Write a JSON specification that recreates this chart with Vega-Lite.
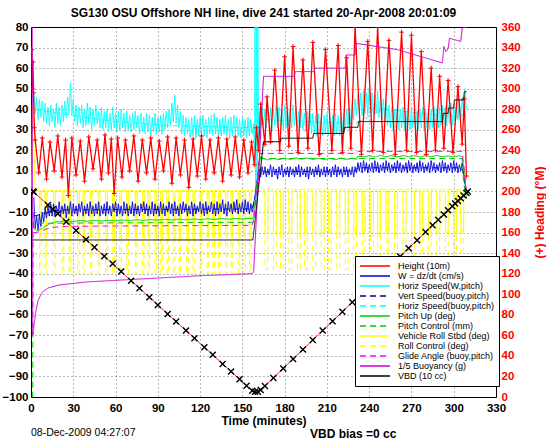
{
"$schema": "https://vega.github.io/schema/vega-lite/v6.json",
"width": 465, "height": 370,
"autosize": {"type": "none"},
"padding": {"left": 31, "top": 27, "right": 50, "bottom": 45},
"background": "white",
"title": {"text": "SG130 OSU Offshore NH line, dive 241 started 20-Apr-2008 20:01:09", "font": "Liberation Sans", "fontSize": 12, "fontWeight": "bold", "color": "#000", "anchor": "middle", "offset": 1},
"config": {
 "font": "Liberation Sans",
 "view": {"stroke": "#000", "strokeWidth": 1},
 "axis": {"labelFont": "Liberation Sans", "labelFontWeight": "bold", "labelFontSize": 11.5, "labelColor": "#000", "titleFont": "Liberation Sans", "titleFontWeight": "bold", "titleFontSize": 12, "titleColor": "#000", "ticks": false, "domain": false, "gridDash": [1, 3], "gridColor": "#000", "gridOpacity": 0.55, "labelOverlap": false, "labelFlush": false},
 "legend": {"orient": "none", "legendX": 324, "legendY": 229, "padding": 5, "strokeColor": "#000", "fillColor": "#fff", "rowPadding": 0, "labelFont": "Liberation Sans", "labelFontSize": 9, "labelColor": "#000", "symbolType": "M-3.75,0H3.75", "symbolSize": 64, "symbolStrokeWidth": 1.5, "symbolOffset": 10, "labelOffset": 18, "zindex": 1, "labelLimit": 200}
},
"resolve": {"scale": {"y": "independent"}},
"layer": [
 {
  "encoding": {
   "x": {"field": "t", "type": "quantitative", "scale": {"domain": [0, 330], "nice": false, "zero": false}, "axis": {"values": [0,30,60,90,120,150,180,210,240,270,300,330], "grid": true, "labelPadding": 5, "title": "Time (minutes)", "titlePadding": 2}},
   "y": {"field": "v", "type": "quantitative", "scale": {"domain": [-100, 80], "nice": false, "zero": false}, "axis": {"values": [-100,-90,-80,-70,-60,-50,-40,-30,-20,-10,0,10,20,30,40,50,60,70,80], "grid": true, "labelPadding": 3, "title": null}}
  },
  "layer": [
   {"data": {"values": [{"t":2,"v":40},{"t":20,"v":38},{"t":60,"v":34},{"t":100,"v":32},{"t":157,"v":31},{"t":161,"v":30},{"t":165,"v":35},{"t":230,"v":33},{"t":250,"v":40},{"t":305,"v":36},{"t":309,"v":40}]},
    "mark": {"type": "line", "strokeWidth": 1, "clip": true},
    "encoding": {
     "color": {"datum": "Horiz Speed(buoy,pitch)", "type": "nominal", "legend": {"title": null},
       "scale": {"domain": ["Height (10m)", "W = dz/dt (cm/s)", "Horiz Speed(W,pitch)", "Vert Speed(buoy,pitch)", "Horiz Speed(buoy,pitch)", "Pitch Up (deg)", "Pitch Control (mm)", "Vehicle Roll Stbd (deg)", "Roll Control (deg)", "Glide Angle (buoy,pitch)", "1/5 Buoyancy (g)", "VBD (10 cc)"],
                 "range": ["#ff0000", "#0000e6", "#00ffff", "#00009c", "#00ffff", "#00cc00", "#00cc00", "#ffff00", "#ffff00", "#ff00ff", "#d000d0", "#000000"]}},
     "strokeDash": {"datum": "Horiz Speed(buoy,pitch)", "type": "nominal", "legend": {"title": null},
       "scale": {"domain": ["Height (10m)", "W = dz/dt (cm/s)", "Horiz Speed(W,pitch)", "Vert Speed(buoy,pitch)", "Horiz Speed(buoy,pitch)", "Pitch Up (deg)", "Pitch Control (mm)", "Vehicle Roll Stbd (deg)", "Roll Control (deg)", "Glide Angle (buoy,pitch)", "1/5 Buoyancy (g)", "VBD (10 cc)"],
                 "range": [[1,0],[1,0],[1,0],[6,4],[6,4],[1,0],[6,4],[1,0],[6,4],[6,4],[1,0],[1,0]]}}
    }},
   {"data": {"values": [{"t":1,"v":30},{"t":2,"v":48},{"t":3,"v":38},{"t":4,"v":46},{"t":5,"v":35},{"t":6,"v":45},{"t":7,"v":36},{"t":8,"v":44},{"t":9,"v":34},{"t":10,"v":43},{"t":11,"v":33},{"t":12,"v":41},{"t":13,"v":32},{"t":14,"v":42},{"t":15,"v":34},{"t":16,"v":40},{"t":17,"v":31},{"t":18,"v":43},{"t":19,"v":33},{"t":20,"v":41},{"t":21,"v":32},{"t":22,"v":42},{"t":23,"v":34},{"t":24,"v":44},{"t":25,"v":36},{"t":26,"v":46},{"t":27,"v":38},{"t":28,"v":53},{"t":29,"v":37},{"t":30,"v":45},{"t":31,"v":34},{"t":32,"v":42},{"t":33,"v":32},{"t":34,"v":41},{"t":35,"v":33},{"t":36,"v":42},{"t":37,"v":31},{"t":38,"v":40},{"t":39,"v":32},{"t":40,"v":43},{"t":41,"v":33},{"t":42,"v":41},{"t":43,"v":30},{"t":44,"v":40},{"t":45,"v":32},{"t":46,"v":42},{"t":47,"v":33},{"t":48,"v":39},{"t":49,"v":31},{"t":50,"v":41},{"t":51,"v":30},{"t":52,"v":39},{"t":53,"v":31},{"t":54,"v":40},{"t":55,"v":29},{"t":56,"v":38},{"t":57,"v":30},{"t":58,"v":41},{"t":59,"v":31},{"t":60,"v":38},{"t":61,"v":29},{"t":62,"v":39},{"t":63,"v":30},{"t":64,"v":40},{"t":65,"v":31},{"t":66,"v":38},{"t":67,"v":29},{"t":68,"v":39},{"t":69,"v":30},{"t":70,"v":37},{"t":71,"v":29},{"t":72,"v":38},{"t":73,"v":30},{"t":74,"v":39},{"t":75,"v":31},{"t":76,"v":37},{"t":77,"v":28},{"t":78,"v":38},{"t":79,"v":29},{"t":80,"v":36},{"t":81,"v":28},{"t":82,"v":38},{"t":83,"v":29},{"t":84,"v":37},{"t":85,"v":27},{"t":86,"v":36},{"t":87,"v":29},{"t":88,"v":38},{"t":89,"v":28},{"t":90,"v":36},{"t":91,"v":29},{"t":92,"v":37},{"t":93,"v":28},{"t":94,"v":38},{"t":95,"v":30},{"t":96,"v":39},{"t":97,"v":31},{"t":98,"v":40},{"t":99,"v":32},{"t":100,"v":43},{"t":101,"v":34},{"t":102,"v":47},{"t":103,"v":33},{"t":104,"v":42},{"t":105,"v":31},{"t":106,"v":39},{"t":107,"v":28},{"t":108,"v":37},{"t":109,"v":27},{"t":110,"v":36},{"t":111,"v":28},{"t":112,"v":35},{"t":113,"v":26},{"t":114,"v":36},{"t":115,"v":27},{"t":116,"v":37},{"t":117,"v":26},{"t":118,"v":35},{"t":119,"v":27},{"t":120,"v":36},{"t":121,"v":28},{"t":122,"v":37},{"t":123,"v":27},{"t":124,"v":35},{"t":125,"v":26},{"t":126,"v":36},{"t":127,"v":28},{"t":128,"v":37},{"t":129,"v":27},{"t":130,"v":38},{"t":131,"v":28},{"t":132,"v":36},{"t":133,"v":26},{"t":134,"v":35},{"t":135,"v":27},{"t":136,"v":36},{"t":137,"v":28},{"t":138,"v":37},{"t":139,"v":27},{"t":140,"v":35},{"t":141,"v":26},{"t":142,"v":36},{"t":143,"v":27},{"t":144,"v":37},{"t":145,"v":28},{"t":146,"v":36},{"t":147,"v":27},{"t":148,"v":35},{"t":149,"v":26},{"t":150,"v":36},{"t":151,"v":27},{"t":152,"v":35},{"t":153,"v":26},{"t":154,"v":36},{"t":155,"v":27},{"t":156,"v":35},{"t":157,"v":28},{"t":158,"v":33},{"t":158.5,"v":20},{"t":159,"v":80},{"t":159.5,"v":0},{"t":160,"v":80},{"t":160.5,"v":-5},{"t":161,"v":80},{"t":161.5,"v":25},{"t":162,"v":38},{"t":163,"v":31},{"t":164,"v":41},{"t":165,"v":32},{"t":166,"v":40},{"t":167,"v":31},{"t":168,"v":42},{"t":169,"v":33},{"t":170,"v":41},{"t":171,"v":30},{"t":172,"v":40},{"t":173,"v":32},{"t":174,"v":42},{"t":175,"v":31},{"t":176,"v":41},{"t":177,"v":32},{"t":178,"v":40},{"t":179,"v":30},{"t":180,"v":42},{"t":181,"v":31},{"t":182,"v":41},{"t":183,"v":32},{"t":184,"v":40},{"t":185,"v":31},{"t":186,"v":42},{"t":187,"v":32},{"t":188,"v":41},{"t":189,"v":30},{"t":190,"v":39},{"t":191,"v":31},{"t":192,"v":40},{"t":193,"v":30},{"t":194,"v":38},{"t":195,"v":29},{"t":196,"v":39},{"t":197,"v":30},{"t":198,"v":38},{"t":199,"v":28},{"t":200,"v":38},{"t":201,"v":28},{"t":202,"v":37},{"t":203,"v":27},{"t":204,"v":38},{"t":205,"v":28},{"t":206,"v":36},{"t":207,"v":27},{"t":208,"v":37},{"t":209,"v":28},{"t":210,"v":38},{"t":211,"v":27},{"t":212,"v":36},{"t":213,"v":28},{"t":214,"v":37},{"t":215,"v":27},{"t":216,"v":38},{"t":217,"v":28},{"t":218,"v":37},{"t":219,"v":27},{"t":220,"v":38},{"t":221,"v":29},{"t":222,"v":38},{"t":223,"v":30},{"t":224,"v":40},{"t":225,"v":31},{"t":226,"v":41},{"t":227,"v":33},{"t":228,"v":43},{"t":229,"v":35},{"t":230,"v":45},{"t":231,"v":37},{"t":232,"v":47},{"t":233,"v":38},{"t":234,"v":48},{"t":235,"v":37},{"t":236,"v":49},{"t":237,"v":38},{"t":238,"v":48},{"t":239,"v":37},{"t":240,"v":50},{"t":241,"v":38},{"t":242,"v":48},{"t":243,"v":37},{"t":244,"v":47},{"t":245,"v":38},{"t":246,"v":49},{"t":247,"v":36},{"t":248,"v":46},{"t":249,"v":35},{"t":250,"v":45},{"t":251,"v":34},{"t":252,"v":44},{"t":253,"v":32},{"t":254,"v":42},{"t":255,"v":31},{"t":256,"v":41},{"t":257,"v":30},{"t":258,"v":40},{"t":259,"v":31},{"t":260,"v":41},{"t":261,"v":30},{"t":262,"v":40},{"t":263,"v":31},{"t":264,"v":41},{"t":265,"v":30},{"t":266,"v":39},{"t":267,"v":31},{"t":268,"v":40},{"t":269,"v":30},{"t":270,"v":41},{"t":271,"v":31},{"t":272,"v":40},{"t":273,"v":30},{"t":274,"v":39},{"t":275,"v":30},{"t":276,"v":40},{"t":277,"v":31},{"t":278,"v":41},{"t":279,"v":30},{"t":280,"v":40},{"t":281,"v":31},{"t":282,"v":39},{"t":283,"v":30},{"t":284,"v":40},{"t":285,"v":31},{"t":286,"v":41},{"t":287,"v":32},{"t":288,"v":40},{"t":289,"v":31},{"t":290,"v":41},{"t":291,"v":32},{"t":292,"v":42},{"t":293,"v":33},{"t":294,"v":41},{"t":295,"v":32},{"t":296,"v":42},{"t":297,"v":33},{"t":298,"v":43},{"t":299,"v":32},{"t":300,"v":42},{"t":301,"v":34},{"t":302,"v":43},{"t":303,"v":35},{"t":304,"v":44},{"t":305,"v":36},{"t":306,"v":46},{"t":307,"v":38},{"t":308,"v":50},{"t":309,"v":40}]},
    "mark": {"type": "line", "strokeWidth": 1, "clip": true},
    "encoding": {"color": {"datum": "Horiz Speed(W,pitch)", "type": "nominal"}, "strokeDash": {"datum": "Horiz Speed(W,pitch)", "type": "nominal"}}},
   {"data": {"values": [{"t":0,"v":0},{"t":6,"v":0},{"t":6.05,"v":-40},{"t":7.2,"v":-40},{"t":7.25,"v":0},{"t":10,"v":0},{"t":10.05,"v":-40},{"t":11.2,"v":-40},{"t":11.25,"v":0},{"t":16,"v":0},{"t":16.05,"v":-40},{"t":17.2,"v":-40},{"t":17.25,"v":0},{"t":22,"v":0},{"t":22.05,"v":-40},{"t":23.2,"v":-40},{"t":23.25,"v":0},{"t":27,"v":0},{"t":27.05,"v":-40},{"t":28.2,"v":-40},{"t":28.25,"v":0},{"t":33,"v":0},{"t":33.05,"v":-40},{"t":34.2,"v":-40},{"t":34.25,"v":0},{"t":37,"v":0},{"t":37.05,"v":-40},{"t":38.2,"v":-40},{"t":38.25,"v":0},{"t":42,"v":0},{"t":42.05,"v":-40},{"t":43.2,"v":-40},{"t":43.25,"v":0},{"t":47.5,"v":0},{"t":47.55,"v":-40},{"t":48.7,"v":-40},{"t":48.75,"v":0},{"t":53,"v":0},{"t":53.05,"v":-40},{"t":54.2,"v":-40},{"t":54.25,"v":0},{"t":58,"v":0},{"t":58.05,"v":-40},{"t":59.2,"v":-40},{"t":59.25,"v":0},{"t":63,"v":0},{"t":63.05,"v":-40},{"t":64.2,"v":-40},{"t":64.25,"v":0},{"t":68,"v":0},{"t":68.05,"v":-40},{"t":69.2,"v":-40},{"t":69.25,"v":0},{"t":74,"v":0},{"t":74.05,"v":-40},{"t":75.2,"v":-40},{"t":75.25,"v":0},{"t":79,"v":0},{"t":79.05,"v":-40},{"t":80.2,"v":-40},{"t":80.25,"v":0},{"t":83,"v":0},{"t":83.05,"v":-40},{"t":84.2,"v":-40},{"t":84.25,"v":0},{"t":88,"v":0},{"t":88.05,"v":-40},{"t":89.2,"v":-40},{"t":89.25,"v":0},{"t":92,"v":0},{"t":92.05,"v":-40},{"t":93.2,"v":-40},{"t":93.25,"v":0},{"t":96.5,"v":0},{"t":96.55,"v":-40},{"t":97.7,"v":-40},{"t":97.75,"v":0},{"t":101,"v":0},{"t":101.05,"v":-40},{"t":102.2,"v":-40},{"t":102.25,"v":0},{"t":105,"v":0},{"t":105.05,"v":-40},{"t":106.2,"v":-40},{"t":106.25,"v":0},{"t":110.5,"v":0},{"t":110.55,"v":-40},{"t":111.7,"v":-40},{"t":111.75,"v":0},{"t":115,"v":0},{"t":115.05,"v":-40},{"t":116.2,"v":-40},{"t":116.25,"v":0},{"t":120,"v":0},{"t":120.05,"v":-40},{"t":121.2,"v":-40},{"t":121.25,"v":0},{"t":125,"v":0},{"t":125.05,"v":-40},{"t":126.2,"v":-40},{"t":126.25,"v":0},{"t":129,"v":0},{"t":129.05,"v":-40},{"t":130.2,"v":-40},{"t":130.25,"v":0},{"t":133,"v":0},{"t":133.05,"v":-40},{"t":134.2,"v":-40},{"t":134.25,"v":0},{"t":138,"v":0},{"t":138.05,"v":-40},{"t":139.2,"v":-40},{"t":139.25,"v":0},{"t":142,"v":0},{"t":142.05,"v":-40},{"t":143.2,"v":-40},{"t":143.25,"v":0},{"t":147,"v":0},{"t":147.05,"v":-40},{"t":148.2,"v":-40},{"t":148.25,"v":0},{"t":151,"v":0},{"t":151.05,"v":-40},{"t":152.2,"v":-40},{"t":152.25,"v":0},{"t":155,"v":0},{"t":155.05,"v":-40},{"t":156.2,"v":-40},{"t":156.25,"v":0},{"t":166,"v":0},{"t":166.05,"v":-38},{"t":168,"v":-38},{"t":168.05,"v":0},{"t":172,"v":0},{"t":172.05,"v":-38},{"t":174,"v":-38},{"t":174.05,"v":0},{"t":177,"v":0},{"t":177.05,"v":-38},{"t":179,"v":-38},{"t":179.05,"v":0},{"t":183,"v":0},{"t":183.05,"v":-38},{"t":185,"v":-38},{"t":185.05,"v":0},{"t":189,"v":0},{"t":189.05,"v":-38},{"t":191,"v":-38},{"t":191.05,"v":0},{"t":194,"v":0},{"t":194.05,"v":-38},{"t":196,"v":-38},{"t":196.05,"v":0},{"t":200,"v":0},{"t":200.05,"v":-38},{"t":202,"v":-38},{"t":202.05,"v":0},{"t":206,"v":0},{"t":206.05,"v":-38},{"t":208,"v":-38},{"t":208.05,"v":0},{"t":211,"v":0},{"t":211.05,"v":-38},{"t":213,"v":-38},{"t":213.05,"v":0},{"t":217,"v":0},{"t":217.05,"v":-38},{"t":219,"v":-38},{"t":219.05,"v":0},{"t":223,"v":0},{"t":223.05,"v":-38},{"t":225,"v":-38},{"t":225.05,"v":0},{"t":229,"v":0},{"t":229.05,"v":-38},{"t":231,"v":-38},{"t":231.05,"v":0},{"t":235,"v":0},{"t":235.05,"v":-38},{"t":237,"v":-38},{"t":237.05,"v":0},{"t":241,"v":0},{"t":241.05,"v":-38},{"t":243,"v":-38},{"t":243.05,"v":0},{"t":246,"v":0},{"t":246.05,"v":-38},{"t":248,"v":-38},{"t":248.05,"v":0},{"t":252,"v":0},{"t":252.05,"v":-38},{"t":254,"v":-38},{"t":254.05,"v":0},{"t":258,"v":0},{"t":258.05,"v":-38},{"t":260,"v":-38},{"t":260.05,"v":0},{"t":264,"v":0},{"t":264.05,"v":-38},{"t":266,"v":-38},{"t":266.05,"v":0},{"t":270,"v":0},{"t":270.05,"v":-38},{"t":272,"v":-38},{"t":272.05,"v":0},{"t":276,"v":0},{"t":276.05,"v":-38},{"t":278,"v":-38},{"t":278.05,"v":0},{"t":282,"v":0},{"t":282.05,"v":-38},{"t":284,"v":-38},{"t":284.05,"v":0},{"t":288,"v":0},{"t":288.05,"v":-38},{"t":290,"v":-38},{"t":290.05,"v":0},{"t":294,"v":0},{"t":294.05,"v":-38},{"t":296,"v":-38},{"t":296.05,"v":0},{"t":300,"v":0},{"t":300.05,"v":-38},{"t":302,"v":-38},{"t":302.05,"v":0},{"t":305,"v":0},{"t":305.05,"v":-38},{"t":307,"v":-38},{"t":307.05,"v":0},{"t":309,"v":0}]},
    "mark": {"type": "line", "strokeWidth": 1, "clip": true},
    "encoding": {"color": {"datum": "Roll Control (deg)", "type": "nominal"}, "strokeDash": {"datum": "Roll Control (deg)", "type": "nominal"}}},
   {"data": {"values": [{"t":0.5,"v":0},{"t":1,"v":42},{"t":2,"v":30},{"t":3,"v":0.5},{"t":6,"v":0.5},{"t":6.1,"v":-22},{"t":7.2,"v":-22},{"t":7.3,"v":0.5},{"t":10,"v":0.5},{"t":10.1,"v":-22},{"t":11.2,"v":-22},{"t":11.3,"v":0.5},{"t":16,"v":0.5},{"t":16.1,"v":-22},{"t":17.2,"v":-22},{"t":17.3,"v":0.5},{"t":22,"v":0.5},{"t":22.1,"v":-22},{"t":23.2,"v":-22},{"t":23.3,"v":0.5},{"t":27,"v":0.5},{"t":27.1,"v":-22},{"t":28.2,"v":-22},{"t":28.3,"v":0.5},{"t":33,"v":0.5},{"t":33.1,"v":-22},{"t":34.2,"v":-22},{"t":34.3,"v":0.5},{"t":37,"v":0.5},{"t":37.1,"v":-22},{"t":38.2,"v":-22},{"t":38.3,"v":0.5},{"t":42,"v":0.5},{"t":42.1,"v":-22},{"t":43.2,"v":-22},{"t":43.3,"v":0.5},{"t":47.5,"v":0.5},{"t":47.6,"v":-22},{"t":48.7,"v":-22},{"t":48.8,"v":0.5},{"t":53,"v":0.5},{"t":53.1,"v":-22},{"t":54.2,"v":-22},{"t":54.3,"v":0.5},{"t":58,"v":0.5},{"t":58.1,"v":-22},{"t":59.2,"v":-22},{"t":59.3,"v":0.5},{"t":63,"v":0.5},{"t":63.1,"v":-22},{"t":64.2,"v":-22},{"t":64.3,"v":0.5},{"t":68,"v":0.5},{"t":68.1,"v":-22},{"t":69.2,"v":-22},{"t":69.3,"v":0.5},{"t":74,"v":0.5},{"t":74.1,"v":-22},{"t":75.2,"v":-22},{"t":75.3,"v":0.5},{"t":79,"v":0.5},{"t":79.1,"v":-22},{"t":80.2,"v":-22},{"t":80.3,"v":0.5},{"t":83,"v":0.5},{"t":83.1,"v":-22},{"t":84.2,"v":-22},{"t":84.3,"v":0.5},{"t":88,"v":0.5},{"t":88.1,"v":-22},{"t":89.2,"v":-22},{"t":89.3,"v":0.5},{"t":92,"v":0.5},{"t":92.1,"v":-22},{"t":93.2,"v":-22},{"t":93.3,"v":0.5},{"t":96.5,"v":0.5},{"t":96.6,"v":-22},{"t":97.7,"v":-22},{"t":97.8,"v":0.5},{"t":101,"v":0.5},{"t":101.1,"v":-22},{"t":102.2,"v":-22},{"t":102.3,"v":0.5},{"t":105,"v":0.5},{"t":105.1,"v":-22},{"t":106.2,"v":-22},{"t":106.3,"v":0.5},{"t":110.5,"v":0.5},{"t":110.6,"v":-22},{"t":111.7,"v":-22},{"t":111.8,"v":0.5},{"t":115,"v":0.5},{"t":115.1,"v":-22},{"t":116.2,"v":-22},{"t":116.3,"v":0.5},{"t":120,"v":0.5},{"t":120.1,"v":-22},{"t":121.2,"v":-22},{"t":121.3,"v":0.5},{"t":125,"v":0.5},{"t":125.1,"v":-22},{"t":126.2,"v":-22},{"t":126.3,"v":0.5},{"t":129,"v":0.5},{"t":129.1,"v":-22},{"t":130.2,"v":-22},{"t":130.3,"v":0.5},{"t":133,"v":0.5},{"t":133.1,"v":-22},{"t":134.2,"v":-22},{"t":134.3,"v":0.5},{"t":138,"v":0.5},{"t":138.1,"v":-22},{"t":139.2,"v":-22},{"t":139.3,"v":0.5},{"t":142,"v":0.5},{"t":142.1,"v":-22},{"t":143.2,"v":-22},{"t":143.3,"v":0.5},{"t":147,"v":0.5},{"t":147.1,"v":-22},{"t":148.2,"v":-22},{"t":148.3,"v":0.5},{"t":151,"v":0.5},{"t":151.1,"v":-22},{"t":152.2,"v":-22},{"t":152.3,"v":0.5},{"t":155,"v":0.5},{"t":155.1,"v":-22},{"t":156.2,"v":-22},{"t":156.3,"v":0.5},{"t":160,"v":1},{"t":166,"v":1},{"t":166.1,"v":-20},{"t":168,"v":-20},{"t":168.1,"v":1},{"t":172,"v":1},{"t":172.1,"v":-20},{"t":174,"v":-20},{"t":174.1,"v":1},{"t":177,"v":1},{"t":177.1,"v":-20},{"t":179,"v":-20},{"t":179.1,"v":1},{"t":183,"v":1},{"t":183.1,"v":-20},{"t":185,"v":-20},{"t":185.1,"v":1},{"t":189,"v":1},{"t":189.1,"v":-20},{"t":191,"v":-20},{"t":191.1,"v":1},{"t":194,"v":1},{"t":194.1,"v":-20},{"t":196,"v":-20},{"t":196.1,"v":1},{"t":200,"v":1},{"t":200.1,"v":-20},{"t":202,"v":-20},{"t":202.1,"v":1},{"t":206,"v":1},{"t":206.1,"v":-20},{"t":208,"v":-20},{"t":208.1,"v":1},{"t":211,"v":1},{"t":211.1,"v":-20},{"t":213,"v":-20},{"t":213.1,"v":1},{"t":217,"v":1},{"t":217.1,"v":-20},{"t":219,"v":-20},{"t":219.1,"v":1},{"t":223,"v":1},{"t":223.1,"v":-20},{"t":225,"v":-20},{"t":225.1,"v":1},{"t":229,"v":1},{"t":229.1,"v":-20},{"t":231,"v":-20},{"t":231.1,"v":1},{"t":235,"v":1},{"t":235.1,"v":-20},{"t":237,"v":-20},{"t":237.1,"v":1},{"t":241,"v":1},{"t":241.1,"v":-20},{"t":243,"v":-20},{"t":243.1,"v":1},{"t":246,"v":1},{"t":246.1,"v":-20},{"t":248,"v":-20},{"t":248.1,"v":1},{"t":252,"v":1},{"t":252.1,"v":-20},{"t":254,"v":-20},{"t":254.1,"v":1},{"t":258,"v":1},{"t":258.1,"v":-20},{"t":260,"v":-20},{"t":260.1,"v":1},{"t":264,"v":1},{"t":264.1,"v":-20},{"t":266,"v":-20},{"t":266.1,"v":1},{"t":270,"v":1},{"t":270.1,"v":-20},{"t":272,"v":-20},{"t":272.1,"v":1},{"t":276,"v":1},{"t":276.1,"v":-20},{"t":278,"v":-20},{"t":278.1,"v":1},{"t":282,"v":1},{"t":282.1,"v":-20},{"t":284,"v":-20},{"t":284.1,"v":1},{"t":288,"v":1},{"t":288.1,"v":-20},{"t":290,"v":-20},{"t":290.1,"v":1},{"t":294,"v":1},{"t":294.1,"v":-20},{"t":296,"v":-20},{"t":296.1,"v":1},{"t":300,"v":1},{"t":300.1,"v":-20},{"t":302,"v":-20},{"t":302.1,"v":1},{"t":305,"v":1},{"t":305.1,"v":-20},{"t":307,"v":-20},{"t":307.1,"v":1},{"t":309,"v":0}]},
    "mark": {"type": "line", "strokeWidth": 1, "clip": true},
    "encoding": {"color": {"datum": "Vehicle Roll Stbd (deg)", "type": "nominal"}, "strokeDash": {"datum": "Vehicle Roll Stbd (deg)", "type": "nominal"}}},
   {"data": {"values": [{"t":2,"v":-12},{"t":20,"v":-9},{"t":157,"v":-8.5},{"t":160,"v":0},{"t":163,"v":9.5},{"t":230,"v":10},{"t":232,"v":11.5},{"t":306,"v":11.5},{"t":309,"v":0}]},
    "mark": {"type": "line", "strokeWidth": 1, "clip": true},
    "encoding": {"color": {"datum": "Vert Speed(buoy,pitch)", "type": "nominal"}, "strokeDash": {"datum": "Vert Speed(buoy,pitch)", "type": "nominal"}}},
   {"data": {"values": [{"t":2,"v":-3},{"t":3,"v":-18},{"t":4,"v":-12},{"t":5,"v":-19},{"t":6,"v":-11},{"t":7,"v":-17},{"t":8,"v":-10},{"t":9,"v":-15},{"t":10,"v":-8},{"t":11,"v":-13},{"t":12,"v":-7},{"t":13,"v":-12},{"t":14,"v":-6},{"t":15,"v":-12},{"t":16,"v":-6},{"t":17,"v":-12},{"t":18,"v":-7},{"t":19,"v":-11},{"t":20,"v":-5},{"t":21,"v":-12},{"t":22,"v":-7},{"t":23,"v":-11},{"t":24,"v":-6},{"t":25,"v":-13},{"t":26,"v":-7},{"t":27,"v":-11},{"t":28,"v":-5},{"t":29,"v":-12},{"t":30,"v":-6},{"t":31,"v":-11},{"t":32,"v":-7},{"t":33,"v":-12},{"t":34,"v":-6},{"t":35,"v":-10},{"t":36,"v":-5},{"t":37,"v":-12},{"t":38,"v":-7},{"t":39,"v":-11},{"t":40,"v":-6},{"t":41,"v":-12},{"t":42,"v":-5},{"t":43,"v":-11},{"t":44,"v":-7},{"t":45,"v":-12},{"t":46,"v":-6},{"t":47,"v":-11},{"t":48,"v":-5},{"t":49,"v":-12},{"t":50,"v":-7},{"t":51,"v":-11},{"t":52,"v":-6},{"t":53,"v":-12},{"t":54,"v":-5},{"t":55,"v":-11},{"t":56,"v":-7},{"t":57,"v":-12},{"t":58,"v":-6},{"t":59,"v":-10},{"t":60,"v":-5},{"t":61,"v":-12},{"t":62,"v":-6},{"t":63,"v":-11},{"t":64,"v":-7},{"t":65,"v":-12},{"t":66,"v":-5},{"t":67,"v":-11},{"t":68,"v":-6},{"t":69,"v":-12},{"t":70,"v":-7},{"t":71,"v":-11},{"t":72,"v":-5},{"t":73,"v":-12},{"t":74,"v":-6},{"t":75,"v":-11},{"t":76,"v":-7},{"t":77,"v":-12},{"t":78,"v":-6},{"t":79,"v":-10},{"t":80,"v":-5},{"t":81,"v":-11},{"t":82,"v":-6},{"t":83,"v":-12},{"t":84,"v":-7},{"t":85,"v":-11},{"t":86,"v":-5},{"t":87,"v":-12},{"t":88,"v":-6},{"t":89,"v":-11},{"t":90,"v":-7},{"t":91,"v":-12},{"t":92,"v":-5},{"t":93,"v":-11},{"t":94,"v":-6},{"t":95,"v":-12},{"t":96,"v":-7},{"t":97,"v":-10},{"t":98,"v":-5},{"t":99,"v":-11},{"t":100,"v":-6},{"t":101,"v":-12},{"t":102,"v":-5},{"t":103,"v":-11},{"t":104,"v":-7},{"t":105,"v":-12},{"t":106,"v":-6},{"t":107,"v":-11},{"t":108,"v":-5},{"t":109,"v":-10},{"t":110,"v":-6},{"t":111,"v":-12},{"t":112,"v":-7},{"t":113,"v":-11},{"t":114,"v":-5},{"t":115,"v":-12},{"t":116,"v":-6},{"t":117,"v":-11},{"t":118,"v":-7},{"t":119,"v":-10},{"t":120,"v":-5},{"t":121,"v":-11},{"t":122,"v":-6},{"t":123,"v":-12},{"t":124,"v":-5},{"t":125,"v":-11},{"t":126,"v":-7},{"t":127,"v":-10},{"t":128,"v":-5},{"t":129,"v":-11},{"t":130,"v":-6},{"t":131,"v":-12},{"t":132,"v":-5},{"t":133,"v":-11},{"t":134,"v":-6},{"t":135,"v":-10},{"t":136,"v":-4},{"t":137,"v":-11},{"t":138,"v":-6},{"t":139,"v":-12},{"t":140,"v":-5},{"t":141,"v":-10},{"t":142,"v":-6},{"t":143,"v":-11},{"t":144,"v":-5},{"t":145,"v":-10},{"t":146,"v":-4},{"t":147,"v":-11},{"t":148,"v":-6},{"t":149,"v":-10},{"t":150,"v":-5},{"t":151,"v":-11},{"t":152,"v":-4},{"t":153,"v":-10},{"t":154,"v":-5},{"t":155,"v":-11},{"t":156,"v":-6},{"t":157,"v":-10},{"t":158,"v":-6},{"t":159,"v":-2},{"t":160,"v":3},{"t":161,"v":7},{"t":162,"v":11},{"t":163,"v":7},{"t":164,"v":12},{"t":165,"v":8},{"t":166,"v":12},{"t":167,"v":7},{"t":168,"v":11},{"t":169,"v":8},{"t":170,"v":13},{"t":171,"v":7},{"t":172,"v":12},{"t":173,"v":8},{"t":174,"v":11},{"t":175,"v":6},{"t":176,"v":12},{"t":177,"v":8},{"t":178,"v":13},{"t":179,"v":7},{"t":180,"v":11},{"t":181,"v":8},{"t":182,"v":12},{"t":183,"v":7},{"t":184,"v":12},{"t":185,"v":8},{"t":186,"v":11},{"t":187,"v":7},{"t":188,"v":12},{"t":189,"v":8},{"t":190,"v":13},{"t":191,"v":7},{"t":192,"v":12},{"t":193,"v":8},{"t":194,"v":11},{"t":195,"v":7},{"t":196,"v":12},{"t":197,"v":6},{"t":198,"v":12},{"t":199,"v":8},{"t":200,"v":11},{"t":201,"v":7},{"t":202,"v":12},{"t":203,"v":8},{"t":204,"v":13},{"t":205,"v":7},{"t":206,"v":11},{"t":207,"v":8},{"t":208,"v":12},{"t":209,"v":7},{"t":210,"v":12},{"t":211,"v":8},{"t":212,"v":11},{"t":213,"v":7},{"t":214,"v":12},{"t":215,"v":8},{"t":216,"v":13},{"t":217,"v":7},{"t":218,"v":12},{"t":219,"v":8},{"t":220,"v":11},{"t":221,"v":7},{"t":222,"v":12},{"t":223,"v":8},{"t":224,"v":12},{"t":225,"v":7},{"t":226,"v":11},{"t":227,"v":8},{"t":228,"v":12},{"t":229,"v":7},{"t":230,"v":12},{"t":231,"v":9},{"t":232,"v":14},{"t":233,"v":10},{"t":234,"v":14},{"t":235,"v":9},{"t":236,"v":15},{"t":237,"v":10},{"t":238,"v":14},{"t":239,"v":9},{"t":240,"v":13},{"t":241,"v":10},{"t":242,"v":14},{"t":243,"v":9},{"t":244,"v":15},{"t":245,"v":10},{"t":246,"v":14},{"t":247,"v":9},{"t":248,"v":13},{"t":249,"v":10},{"t":250,"v":14},{"t":251,"v":9},{"t":252,"v":15},{"t":253,"v":10},{"t":254,"v":14},{"t":255,"v":9},{"t":256,"v":13},{"t":257,"v":10},{"t":258,"v":14},{"t":259,"v":9},{"t":260,"v":15},{"t":261,"v":10},{"t":262,"v":14},{"t":263,"v":9},{"t":264,"v":13},{"t":265,"v":10},{"t":266,"v":14},{"t":267,"v":9},{"t":268,"v":15},{"t":269,"v":10},{"t":270,"v":14},{"t":271,"v":9},{"t":272,"v":13},{"t":273,"v":10},{"t":274,"v":14},{"t":275,"v":9},{"t":276,"v":15},{"t":277,"v":10},{"t":278,"v":14},{"t":279,"v":9},{"t":280,"v":13},{"t":281,"v":10},{"t":282,"v":14},{"t":283,"v":9},{"t":284,"v":15},{"t":285,"v":10},{"t":286,"v":14},{"t":287,"v":9},{"t":288,"v":13},{"t":289,"v":10},{"t":290,"v":14},{"t":291,"v":9},{"t":292,"v":15},{"t":293,"v":10},{"t":294,"v":14},{"t":295,"v":9},{"t":296,"v":13},{"t":297,"v":10},{"t":298,"v":14},{"t":299,"v":9},{"t":300,"v":15},{"t":301,"v":10},{"t":302,"v":14},{"t":303,"v":9},{"t":304,"v":13},{"t":305,"v":10},{"t":306,"v":14},{"t":307,"v":8},{"t":308,"v":4},{"t":309,"v":0}]},
    "mark": {"type": "line", "strokeWidth": 1, "clip": true},
    "encoding": {"color": {"datum": "W = dz/dt (cm/s)", "type": "nominal"}, "strokeDash": {"datum": "W = dz/dt (cm/s)", "type": "nominal"}}},
   {"data": {"values": [{"t":0.7,"v":-100},{"t":1.2,"v":-100},{"t":1.6,"v":-15},{"t":3,"v":-15.5},{"t":157.5,"v":-15},{"t":158,"v":-15},{"t":162,"v":16},{"t":306,"v":16},{"t":307,"v":5},{"t":308,"v":0}]},
    "mark": {"type": "line", "strokeWidth": 1, "clip": true},
    "encoding": {"color": {"datum": "Pitch Control (mm)", "type": "nominal"}, "strokeDash": {"datum": "Pitch Control (mm)", "type": "nominal"}}},
   {"data": {"values": [{"t":1,"v":0},{"t":1.5,"v":-12},{"t":2,"v":-18},{"t":4,"v":-19},{"t":6,"v":-18.5},{"t":8,"v":-18},{"t":10,"v":-17},{"t":12,"v":-16.3},{"t":14,"v":-15.5},{"t":17,"v":-15},{"t":20,"v":-14.6},{"t":25,"v":-14.3},{"t":30,"v":-14.6},{"t":35,"v":-14.2},{"t":40,"v":-14.5},{"t":45,"v":-14.1},{"t":50,"v":-14.4},{"t":55,"v":-14},{"t":60,"v":-14.3},{"t":65,"v":-13.9},{"t":70,"v":-14.2},{"t":75,"v":-13.8},{"t":80,"v":-14.1},{"t":85,"v":-13.7},{"t":90,"v":-14},{"t":95,"v":-13.6},{"t":100,"v":-13.9},{"t":105,"v":-13.5},{"t":110,"v":-13.8},{"t":115,"v":-13.4},{"t":120,"v":-13.7},{"t":125,"v":-13.3},{"t":130,"v":-13.6},{"t":135,"v":-13.2},{"t":140,"v":-13.5},{"t":145,"v":-13.1},{"t":150,"v":-13.4},{"t":155,"v":-13.1},{"t":157.5,"v":-13.3},{"t":159,"v":-5},{"t":160.5,"v":5},{"t":162,"v":14},{"t":163,"v":17},{"t":165,"v":16},{"t":168,"v":15.4},{"t":172,"v":16.1},{"t":176,"v":15.5},{"t":180,"v":16.2},{"t":184,"v":15.6},{"t":188,"v":16.3},{"t":192,"v":15.7},{"t":196,"v":16.3},{"t":200,"v":15.6},{"t":204,"v":16.2},{"t":208,"v":15.5},{"t":212,"v":16.1},{"t":216,"v":15.5},{"t":220,"v":16.2},{"t":224,"v":15.6},{"t":228,"v":16.1},{"t":231,"v":15.7},{"t":232,"v":17.2},{"t":236,"v":16.8},{"t":240,"v":17.4},{"t":244,"v":16.8},{"t":248,"v":17.5},{"t":252,"v":16.9},{"t":256,"v":17.4},{"t":260,"v":16.8},{"t":264,"v":17.5},{"t":268,"v":16.9},{"t":272,"v":17.4},{"t":276,"v":16.8},{"t":280,"v":17.4},{"t":284,"v":16.9},{"t":288,"v":17.5},{"t":292,"v":16.8},{"t":296,"v":17.3},{"t":300,"v":16.8},{"t":304,"v":17.4},{"t":306,"v":17},{"t":307.5,"v":10},{"t":308.5,"v":0},{"t":309,"v":-3}]},
    "mark": {"type": "line", "strokeWidth": 1, "clip": true},
    "encoding": {"color": {"datum": "Pitch Up (deg)", "type": "nominal"}, "strokeDash": {"datum": "Pitch Up (deg)", "type": "nominal"}}},
   {"data": {"values": [{"t":1.5,"v":-10},{"t":2,"v":-20},{"t":5,"v":-19.8},{"t":10,"v":-18.5},{"t":15,"v":-17.5},{"t":25,"v":-17},{"t":60,"v":-16.8},{"t":157,"v":-16.5},{"t":158.5,"v":-12},{"t":160.5,"v":5},{"t":162.5,"v":18.5},{"t":231,"v":18.5},{"t":232,"v":19.5},{"t":306,"v":19.5},{"t":307.5,"v":10},{"t":309,"v":0}]},
    "mark": {"type": "line", "strokeWidth": 1, "clip": true},
    "encoding": {"color": {"datum": "Glide Angle (buoy,pitch)", "type": "nominal"}, "strokeDash": {"datum": "Glide Angle (buoy,pitch)", "type": "nominal"}}}
  ]
 },
 {
  "data": {"values": [{"t":0.6,"v":338},{"t":1.0,"v":300},{"t":1.4,"v":326},{"t":1.8,"v":296},{"t":2.4,"v":262},{"t":3,"v":250},{"t":5.5,"v":218},{"t":8,"v":252},{"t":11,"v":212},{"t":13.5,"v":248},{"t":16.5,"v":220},{"t":19,"v":254},{"t":22,"v":214},{"t":24.5,"v":250},{"t":26.5,"v":196},{"t":29,"v":252},{"t":32,"v":216},{"t":35,"v":249},{"t":38,"v":210},{"t":41,"v":253},{"t":44,"v":222},{"t":47,"v":250},{"t":50,"v":212},{"t":52.5,"v":255},{"t":55,"v":218},{"t":57,"v":251},{"t":59,"v":198},{"t":61.5,"v":252},{"t":64.5,"v":214},{"t":67,"v":250},{"t":70,"v":220},{"t":73,"v":254},{"t":76,"v":210},{"t":79,"v":250},{"t":82,"v":218},{"t":85,"v":252},{"t":88,"v":212},{"t":91,"v":249},{"t":94,"v":220},{"t":97,"v":253},{"t":100,"v":208},{"t":103,"v":252},{"t":106,"v":216},{"t":109,"v":250},{"t":112,"v":204},{"t":115,"v":251},{"t":118,"v":215},{"t":121,"v":254},{"t":124,"v":212},{"t":127,"v":250},{"t":130,"v":218},{"t":133,"v":252},{"t":136,"v":210},{"t":139,"v":251},{"t":142,"v":216},{"t":145,"v":253},{"t":148,"v":214},{"t":151,"v":250},{"t":154,"v":218},{"t":156.5,"v":248},{"t":158.5,"v":226},{"t":160,"v":262},{"t":161.5,"v":240},{"t":163,"v":285},{"t":166,"v":246},{"t":167.5,"v":292},{"t":170,"v":248},{"t":173,"v":318},{"t":176.5,"v":240},{"t":180,"v":331},{"t":183,"v":244},{"t":186,"v":341},{"t":189.5,"v":238},{"t":193,"v":328},{"t":196.5,"v":242},{"t":200,"v":345},{"t":204.5,"v":236},{"t":209,"v":338},{"t":213.5,"v":240},{"t":218,"v":342},{"t":221,"v":238},{"t":224,"v":330},{"t":227,"v":242},{"t":230,"v":360},{"t":234.5,"v":236},{"t":239,"v":346},{"t":242.5,"v":240},{"t":246,"v":360},{"t":250,"v":238},{"t":254,"v":347},{"t":258.5,"v":236},{"t":263,"v":355},{"t":266.5,"v":240},{"t":270,"v":352},{"t":273.5,"v":238},{"t":277,"v":336},{"t":280.5,"v":236},{"t":284,"v":320},{"t":287,"v":240},{"t":290,"v":312},{"t":293,"v":242},{"t":296,"v":308},{"t":299.5,"v":238},{"t":303,"v":302},{"t":306,"v":246},{"t":307.5,"v":290},{"t":309,"v":215}]},
  "encoding": {
   "x": {"field": "t", "type": "quantitative"},
   "y": {"field": "v", "type": "quantitative", "scale": {"domain": [0, 360], "nice": false, "zero": false},
         "axis": {"orient": "right", "values": [0,20,40,60,80,100,120,140,160,180,200,220,240,260,280,300,320,340,360], "grid": false, "labelColor": "#ff0000", "titleColor": "#ff0000", "labelPadding": 5, "title": "(+) Heading (°M)", "titleAngle": 270, "titleBaseline": "top", "titlePadding": 14}}
  },
  "layer": [
   {"mark": {"type": "line", "color": "#ff0000", "strokeWidth": 1.3, "clip": true}},
   {"mark": {"type": "point", "shape": "M-1,0H1M0,-1V1", "size": 22, "filled": false, "stroke": "#ff0000", "strokeWidth": 1, "opacity": 1, "clip": true}}
  ]
 },
 {
  "encoding": {
   "x": {"field": "t", "type": "quantitative"},
   "y": {"field": "v", "type": "quantitative", "scale": {"domain": [-100, 80], "nice": false, "zero": false}, "axis": null}
  },
  "layer": [
   {"data": {"values": [{"t":0.4,"v":80},{"t":0.9,"v":80},{"t":1.2,"v":-70},{"t":2,"v":-66},{"t":3,"v":-60},{"t":5,"v":-53},{"t":8,"v":-49},{"t":12,"v":-47},{"t":20,"v":-45.5},{"t":40,"v":-44},{"t":80,"v":-42.5},{"t":120,"v":-41},{"t":157,"v":-40},{"t":158,"v":-39},{"t":165,"v":56},{"t":187,"v":56},{"t":187.5,"v":58.3},{"t":201,"v":58.3},{"t":201.5,"v":60},{"t":223,"v":60},{"t":223.5,"v":66.4},{"t":230,"v":66.4},{"t":231,"v":72},{"t":260,"v":69},{"t":292,"v":62.5},{"t":293,"v":70.5},{"t":294.5,"v":68},{"t":296,"v":69.5},{"t":297,"v":74.5},{"t":305,"v":73},{"t":306,"v":79.5},{"t":309,"v":80}]},
    "mark": {"type": "line", "strokeWidth": 1, "clip": true},
    "encoding": {"color": {"datum": "1/5 Buoyancy (g)", "type": "nominal"}, "strokeDash": {"datum": "1/5 Buoyancy (g)", "type": "nominal"}}},
   {"data": {"values": [{"t":1,"v":-23.6},{"t":157.5,"v":-23.6},{"t":165,"v":24.2},{"t":177,"v":24.2},{"t":177.5,"v":25.9},{"t":200,"v":25.9},{"t":200.5,"v":28.2},{"t":222,"v":28.2},{"t":222.5,"v":31.2},{"t":232,"v":31.2},{"t":232.5,"v":34},{"t":292,"v":34},{"t":292.5,"v":38},{"t":296,"v":38},{"t":296.5,"v":40.6},{"t":300,"v":40.6},{"t":300.5,"v":44.5},{"t":307,"v":44.5},{"t":307.5,"v":48.5},{"t":309,"v":48.5}]},
    "mark": {"type": "line", "strokeWidth": 1, "clip": true},
    "encoding": {"color": {"datum": "VBD (10 cc)", "type": "nominal"}, "strokeDash": {"datum": "VBD (10 cc)", "type": "nominal"}}},
   {"data": {"name": "depth", "values": [{"t":1.5,"v":0},{"t":2,"v":-0.3},{"t":12,"v":-6.6},{"t":15.5,"v":-8.7},{"t":19,"v":-10.9},{"t":25,"v":-14.7},{"t":32,"v":-19.0},{"t":39,"v":-23.4},{"t":45,"v":-27.1},{"t":52,"v":-31.5},{"t":58,"v":-35.2},{"t":64,"v":-39.0},{"t":71,"v":-43.4},{"t":77,"v":-47.1},{"t":84,"v":-51.5},{"t":90,"v":-55.2},{"t":97,"v":-59.6},{"t":103,"v":-63.3},{"t":110,"v":-67.7},{"t":116,"v":-71.4},{"t":123,"v":-75.8},{"t":129,"v":-79.5},{"t":136,"v":-83.9},{"t":142,"v":-87.6},{"t":148,"v":-91.4},{"t":153,"v":-94.5},{"t":157,"v":-97.0},{"t":159,"v":-97.5},{"t":161,"v":-97.4},{"t":163,"v":-96.6},{"t":166,"v":-94.7},{"t":172,"v":-90.7},{"t":179,"v":-86.1},{"t":186,"v":-81.5},{"t":193,"v":-76.9},{"t":200,"v":-72.3},{"t":207,"v":-67.7},{"t":214,"v":-63.1},{"t":221,"v":-58.5},{"t":228,"v":-53.9},{"t":235,"v":-49.3},{"t":242,"v":-44.7},{"t":249,"v":-40.1},{"t":256,"v":-35.5},{"t":262,"v":-31.6},{"t":268,"v":-27.6},{"t":274,"v":-23.7},{"t":280,"v":-19.7},{"t":285,"v":-16.4},{"t":289,"v":-13.8},{"t":293,"v":-11.2},{"t":296,"v":-9.2},{"t":299,"v":-7.2},{"t":301,"v":-5.9},{"t":303,"v":-4.6},{"t":305,"v":-3.3},{"t":307,"v":-2.0},{"t":309,"v":-0.7},{"t":310,"v":0}]},
    "mark": {"type": "line", "strokeWidth": 1, "clip": true},
    "encoding": {"color": {"datum": "Height (10m)", "type": "nominal"}, "strokeDash": {"datum": "Height (10m)", "type": "nominal"}}},
   {"data": {"name": "depth"},
    "mark": {"type": "point", "shape": "M-1,-1L1,1M-1,1L1,-1", "size": 36, "filled": false, "stroke": "#000", "strokeWidth": 1.4, "opacity": 1, "clip": true}}
  ]
 },
 {
  "layer": [
   {"data": {"values": [{"note": "08-Dec-2009 04:27:07"}]},
    "mark": {"type": "text", "align": "left", "baseline": "middle", "font": "Liberation Sans", "fontSize": 10.5, "color": "#000"},
    "encoding": {"x": {"datum": 0, "type": "quantitative"}, "y": {"datum": -117.6, "type": "quantitative", "scale": {"domain": [-100, 80], "nice": false, "zero": false}, "axis": null}, "text": {"field": "note"}}},
   {"data": {"values": [{"note": "VBD bias =0 cc"}]},
    "mark": {"type": "text", "align": "left", "baseline": "middle", "font": "Liberation Sans", "fontSize": 12, "fontWeight": "bold", "color": "#000"},
    "encoding": {"x": {"datum": 198, "type": "quantitative"}, "y": {"datum": -118.2, "type": "quantitative", "scale": {"domain": [-100, 80], "nice": false, "zero": false}, "axis": null}, "text": {"field": "note"}}}
  ]
 }
]
}
